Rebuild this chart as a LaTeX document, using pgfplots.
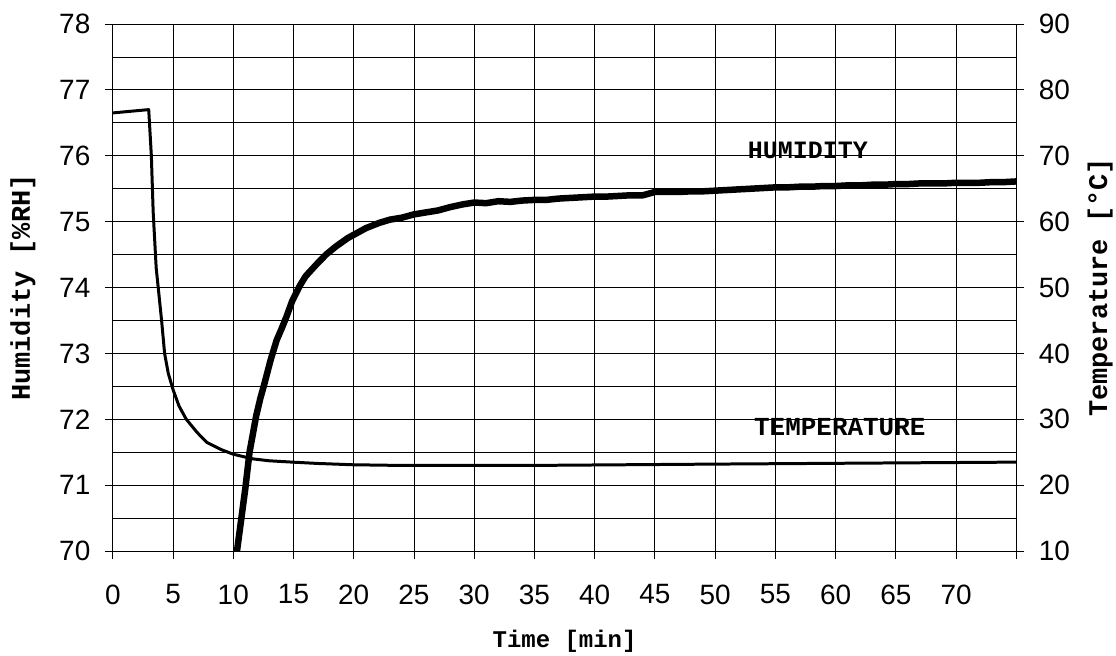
\documentclass[border=0pt]{standalone}
\usepackage{pgfplots}
\pgfplotsset{compat=1.18}
\usepackage{fontspec}
\setmainfont{Liberation Sans}
\newfontfamily\monob{Liberation Mono}
\pgfplotstableread{
x H
10.2 69.85
10.6 70.4
11.0 70.95
11.35 71.5
11.65 71.8
11.9 72.05
12.25 72.32
12.6 72.55
13.1 72.9
13.6 73.2
14.0 73.37
14.4 73.55
14.9 73.8
15.5 74.02
16.0 74.17
16.5 74.27
16.9 74.35
17.7 74.5
18.5 74.62
19.5 74.75
20.3 74.83
21 74.9
22.1 74.98
23 75.03
24 75.06
25 75.11
26 75.14
27 75.17
28 75.22
29 75.26
30 75.29
31 75.28
32 75.31
33 75.30
34 75.32
35 75.33
36 75.33
37 75.35
38 75.36
39 75.37
40 75.38
41 75.38
42 75.39
43 75.40
44 75.40
45 75.45
46 75.45
47 75.45
48 75.46
49 75.46
50 75.47
51 75.48
52 75.49
53 75.50
54 75.51
55 75.52
56 75.52
57 75.53
58 75.53
59 75.54
60 75.54
61 75.55
62 75.55
63 75.56
64 75.56
65 75.57
66 75.57
67 75.58
68 75.58
69 75.58
70 75.59
71 75.59
72 75.59
73 75.60
74 75.60
75 75.61
}\humtable
\pgfplotstableread{
x T
0 76.5
2.98 77.0
3.2 70
3.35 61.5
3.6 53
4.05 45
4.3 40
4.6 37
5.0 34.5
5.5 32
6.1 30
7.0 28
7.8 26.5
9.0 25.4
10 24.7
11.6 24.0
13 23.7
14.9 23.5
17 23.3
19.9 23.1
23.8 23.0
35 23.0
50 23.2
75 23.5
}\temptable
\begin{document}
\begin{tikzpicture}
\pgfplotsset{
  common/.style={
    scale only axis, width=905bp, height=528bp,
    at={(0,0)}, anchor=south west,
    xmin=0, xmax=75,
    axis line style={black, line width=0.8bp},
    tick style={black, line width=0.8bp},
    tick align=center, major tick length=16bp, minor tick length=0pt,
    tick label style={font=\fontsize{28bp}{32bp}\selectfont},
    /pgf/number format/assume math mode=true,
    label style={font=\fontsize{27bp}{30bp}\selectfont\monob\bfseries},
  }
}
\begin{axis}[common,
  ymin=70, ymax=78,
  xtick={0,5,...,75},
  xticklabels={0,5,10,15,20,25,30,35,40,45,50,55,60,65,70,},
  ytick={70,71,...,78},
  minor ytick={70.5,71.5,...,77.5},
  grid=both,
  major grid style={black, line width=0.8bp},
  minor grid style={black, line width=0.8bp},
  ytick pos=left, xtick pos=bottom,
  yticklabel style={xshift=-11bp},
  xticklabel style={yshift=-22bp},
  xlabel={Time [min]},
  ylabel={Humidity [\%RH]},
  xlabel style={at={(axis description cs:0.5,-0.1705)}, anchor=center, font=\fontsize{24bp}{28bp}\selectfont\monob\bfseries},
  ylabel style={at={(axis description cs:-0.0994,0.5)}, anchor=center},
]
\addplot[black, line width=6.5bp, line join=round] table[x=x,y=H] {\humtable};
\node[font=\fontsize{25bp}{30bp}\selectfont\monob\bfseries] at (axis cs:57.7,76.08) {HUMIDITY};
\node[font=\fontsize{26bp}{30bp}\selectfont\monob\bfseries] at (axis cs:60.35,71.88) {TEMPERATURE};
\end{axis}
\begin{axis}[common,
  ymin=10, ymax=90,
  axis x line=none, axis y line*=right,
  ytick={10,20,...,90},
  yticklabel style={xshift=11bp},
  ylabel={Temperature [°C]},
  ylabel style={at={(axis description cs:1.0928,0.5)}, anchor=center},
]
\addplot[black, line width=3bp, line join=round] table[x=x,y=T] {\temptable};
\end{axis}
\path[use as bounding box] (-113bp,-101bp) rectangle (1003bp,552bp);
\end{tikzpicture}
\end{document}
